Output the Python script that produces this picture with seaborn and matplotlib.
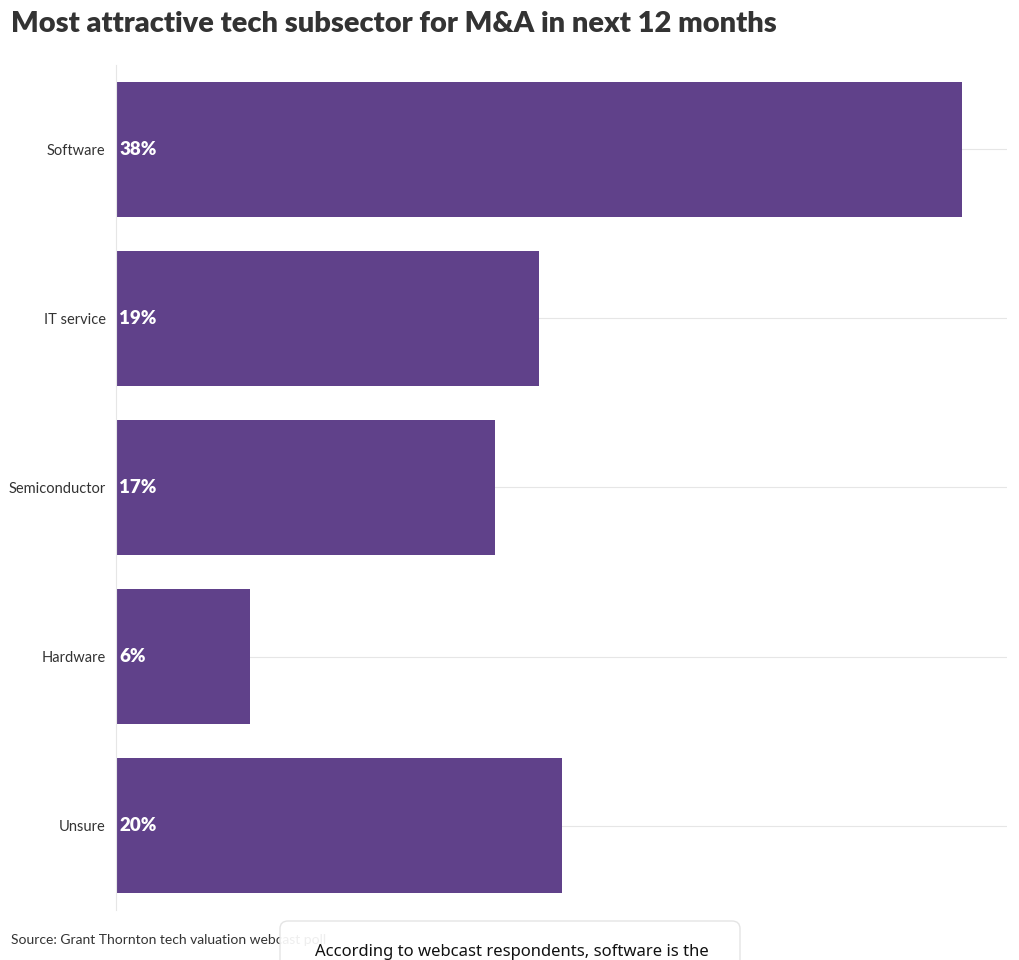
import matplotlib
matplotlib.use("Agg")
import matplotlib.pyplot as plt
import seaborn as sns
import pandas as pd
from matplotlib.patches import FancyBboxPatch

categories = ["Software", "IT service", "Semiconductor", "Hardware", "Unsure"]
values = [38, 19, 17, 6, 20]
labels = ["38%", "19%", "17%", "6%", "20%"]

title = "Most attractive tech subsector for M&A in next 12 months"
source = "Source: Grant Thornton tech valuation webcast poll"
tooltip = "According to webcast respondents, software is the"

sns.set_theme(style="white")
plt.rcParams['font.family'] = ['Lato', 'DejaVu Sans']

df = pd.DataFrame({"category": categories, "value": values})

fig = plt.figure(figsize=(10.2, 9.6), dpi=100)
ax = fig.add_axes([116/1020, 1 - 910/960, (1007-116)/1020, (910-65)/960])

sns.barplot(data=df, x="value", y="category", orient="h", color="#60418a",
            saturation=1, width=0.8, linewidth=0, ax=ax)

ax.set_xlim(0, 40)
ax.set_ylim(4.5, -0.5)
ax.set_xlabel("")
ax.set_ylabel("")
ax.set_xticks([])
for y in range(len(categories)):
    ax.axhline(y, color="#e6e6e6", lw=0.8, zorder=0)
for s in ["top", "right", "bottom"]:
    ax.spines[s].set_visible(False)
ax.spines["left"].set_color("#e6e6e6")
ax.spines["left"].set_linewidth(0.8)
ax.tick_params(axis="y", length=0, pad=7.5, labelsize=10.5, labelcolor="#333333")

for i, (v, lab) in enumerate(zip(values, labels)):
    ax.text(0.15, i, lab, color="white", fontweight="heavy", fontsize=13.5,
            va="center", ha="left")

fig.text(11/1020, 1 - 24/960, title, fontsize=20.9, fontweight="heavy",
         color="#333333", va="center", ha="left")
fig.text(11/1020, 1 - 940/960, source, fontsize=10, color="#333333",
         va="center", ha="left")

box = FancyBboxPatch((280/1020, 1 - 990/960), 460/1020, 69/960,
                     boxstyle="round,pad=0,rounding_size=0.008",
                     transform=fig.transFigure, facecolor="white",
                     edgecolor="#e2e2e2", lw=1, alpha=0.92, zorder=5)
fig.patches.append(box)
fig.text(315/1020, 1 - 952/960, tooltip, fontsize=12.0, color="#111111",
         va="center", ha="left", zorder=6, family=['Noto Sans', 'DejaVu Sans'])

fig.savefig("out.png", dpi=100, facecolor="white")
